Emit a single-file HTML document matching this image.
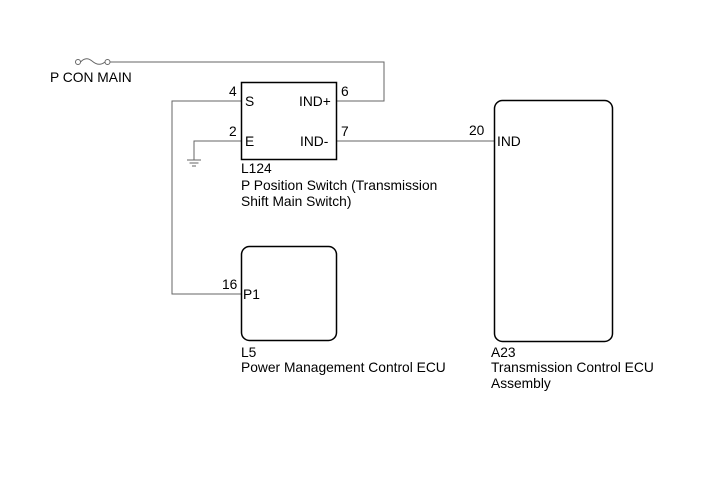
<!DOCTYPE html>
<html><head><style>
html,body{margin:0;padding:0;background:#fff;}
svg{display:block;}
text{font-family:"Liberation Sans",Arial,sans-serif;font-size:13.8px;fill:#000;}
</style></head><body>
<svg width="713" height="481" viewBox="0 0 713 481" xmlns="http://www.w3.org/2000/svg">
<g fill="none" stroke="#666" stroke-width="1">
<circle cx="78" cy="62" r="2.5"/>
<circle cx="107.5" cy="62" r="2.5"/>
<path d="M80.5 62 Q86 56 92 61 Q99 67 105 62"/>
<polyline points="110,62 384,62 384,101 337,101"/>
<polyline points="241,101 172,101 172,294 241,294"/>
<polyline points="241,141 194,141 194,160"/>
<line x1="337" y1="141" x2="494" y2="141"/>
<line x1="187" y1="160" x2="201" y2="160"/>
<line x1="189.5" y1="163" x2="198.5" y2="163"/>
<line x1="192" y1="166" x2="196" y2="166"/>
</g>
<g fill="none" stroke="#000" stroke-width="1.5">
<rect x="241.5" y="82.5" width="95" height="77"/>
<rect x="241.5" y="246.5" width="95" height="94" rx="8"/>
<rect x="494.5" y="100.5" width="118" height="241" rx="8"/>
</g>
<text x="50" y="82">P CON MAIN</text>
<text x="229" y="96">4</text>
<text x="245" y="106">S</text>
<text x="299" y="106">IND+</text>
<text x="341" y="96">6</text>
<text x="229" y="136">2</text>
<text x="245" y="146">E</text>
<text x="300" y="146">IND-</text>
<text x="341" y="136">7</text>
<text x="241" y="173">L124</text>
<text x="241" y="190">P Position Switch (Transmission</text>
<text x="241" y="206">Shift Main Switch)</text>
<text x="469" y="135">20</text>
<text x="497" y="146">IND</text>
<text x="222" y="289">16</text>
<text x="243" y="299">P1</text>
<text x="241" y="357">L5</text>
<text x="241" y="372">Power Management Control ECU</text>
<text x="491" y="357">A23</text>
<text x="491" y="372">Transmission Control ECU</text>
<text x="491" y="388">Assembly</text>
</svg>
</body></html>
